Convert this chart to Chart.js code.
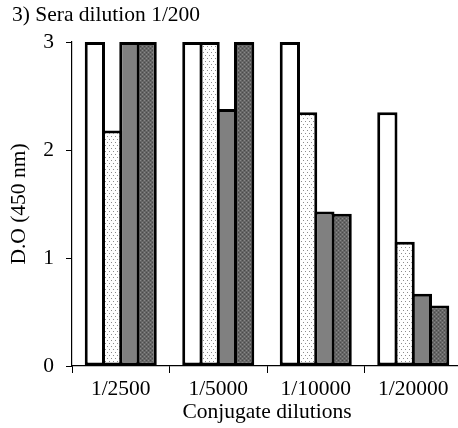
<!DOCTYPE html>
<html>
<head>
<meta charset="utf-8">
<script src="https://cdn.jsdelivr.net/npm/chart.js@4/dist/chart.umd.min.js"></script>
<style>
html,body{margin:0;padding:0;background:#fff;overflow:hidden;}
#wrap{width:462px;height:428px;}
</style>
</head>
<body>
<div id="wrap"><canvas id="c" width="462" height="428"></canvas></div>
<script>
const categories = ['1/2500', '1/5000', '1/10000', '1/20000'];
const seriesA = [3, 3, 3, 2.35];
const seriesB = [2.18, 3, 2.35, 1.15];
const seriesC = [3, 2.38, 1.43, 0.67];
const seriesD = [3, 3, 1.41, 0.56];
const yTicks = [0, 1, 2, 3];
const chartTitle = '3) Sera dilution 1/200';
const xTitle = 'Conjugate dilutions';
const yTitle = 'D.O (450 nm)';

const FONT = '"Liberation Serif", "Times New Roman", serif';

function makePattern(kind) {
  const p = document.createElement('canvas');
  const ctx = p.getContext('2d');
  if (kind === 'dots') {
    p.width = 4; p.height = 6;
    ctx.fillStyle = '#ffffff'; ctx.fillRect(0, 0, 4, 6);
    ctx.fillStyle = '#8c8c8c';
    ctx.fillRect(1, 1, 1, 1);
    ctx.fillRect(3, 4, 1, 1);
  } else {
    p.width = 4; p.height = 4;
    ctx.fillStyle = '#666666'; ctx.fillRect(0, 0, 4, 4);
    ctx.fillStyle = '#888888';
    ctx.fillRect(0, 0, 1, 1); ctx.fillRect(2, 2, 1, 1);
    ctx.fillStyle = '#4a4a4a';
    ctx.fillRect(2, 0, 1, 1); ctx.fillRect(0, 2, 1, 1);
  }
  return document.getElementById('c').getContext('2d').createPattern(p, 'repeat');
}

const titlePlugin = {
  id: 'topTitle',
  afterDraw(chart) {
    const ctx = chart.ctx;
    ctx.save();
    ctx.font = '21.5px ' + FONT;
    ctx.fillStyle = '#000';
    ctx.textBaseline = 'alphabetic';
    ctx.textAlign = 'left';
    ctx.fillText(chartTitle, 12, 21);
    ctx.restore();
  }
};

const common = {
  borderColor: '#000',
  borderWidth: 3,
  borderSkipped: false,
  categoryPercentage: 0.708,
  barPercentage: 1.174
};

new Chart(document.getElementById('c'), {
  type: 'bar',
  data: {
    labels: categories,
    datasets: [
      Object.assign({ label: 'A', data: seriesA, backgroundColor: '#ffffff' }, common),
      Object.assign({ label: 'B', data: seriesB, backgroundColor: makePattern('dots') }, common),
      Object.assign({ label: 'C', data: seriesC, backgroundColor: '#808080' }, common),
      Object.assign({ label: 'D', data: seriesD, backgroundColor: makePattern('check') }, common)
    ]
  },
  options: {
    responsive: false,
    animation: false,
    layout: { padding: { top: 42, left: 0, right: 0, bottom: 0 } },
    plugins: { legend: { display: false }, tooltip: { enabled: false } },
    scales: {
      x: {
        offset: true,
        grid: { display: true, drawOnChartArea: false, drawTicks: true, tickLength: 7, color: '#000', offset: true, lineWidth: 1 },
        border: { display: true, color: '#000', width: 1.2 },
        ticks: { color: '#000', font: { family: FONT, size: 21.5 }, padding: 3, maxRotation: 0 },
        title: { display: true, text: xTitle, color: '#000', font: { family: FONT, size: 21.5 }, padding: { top: 0, bottom: 3 } },
        afterFit(s) { s.height = 62; }
      },
      y: {
        min: 0, max: 3,
        afterBuildTicks(s) { s.ticks = yTicks.map(v => ({ value: v })); },
        grid: { display: true, drawOnChartArea: false, drawTicks: true, tickLength: 6, color: '#000', lineWidth: 1 },
        border: { display: true, color: '#000', width: 1.2 },
        ticks: { color: '#000', font: { family: FONT, size: 21.5 }, padding: 12 },
        title: { display: true, text: yTitle, color: '#000', font: { family: FONT, size: 21.5 }, padding: { top: 6, bottom: 0 } },
        afterFit(s) { s.width = 72; }
      }
    }
  },
  plugins: [titlePlugin]
});
</script>
</body>
</html>
